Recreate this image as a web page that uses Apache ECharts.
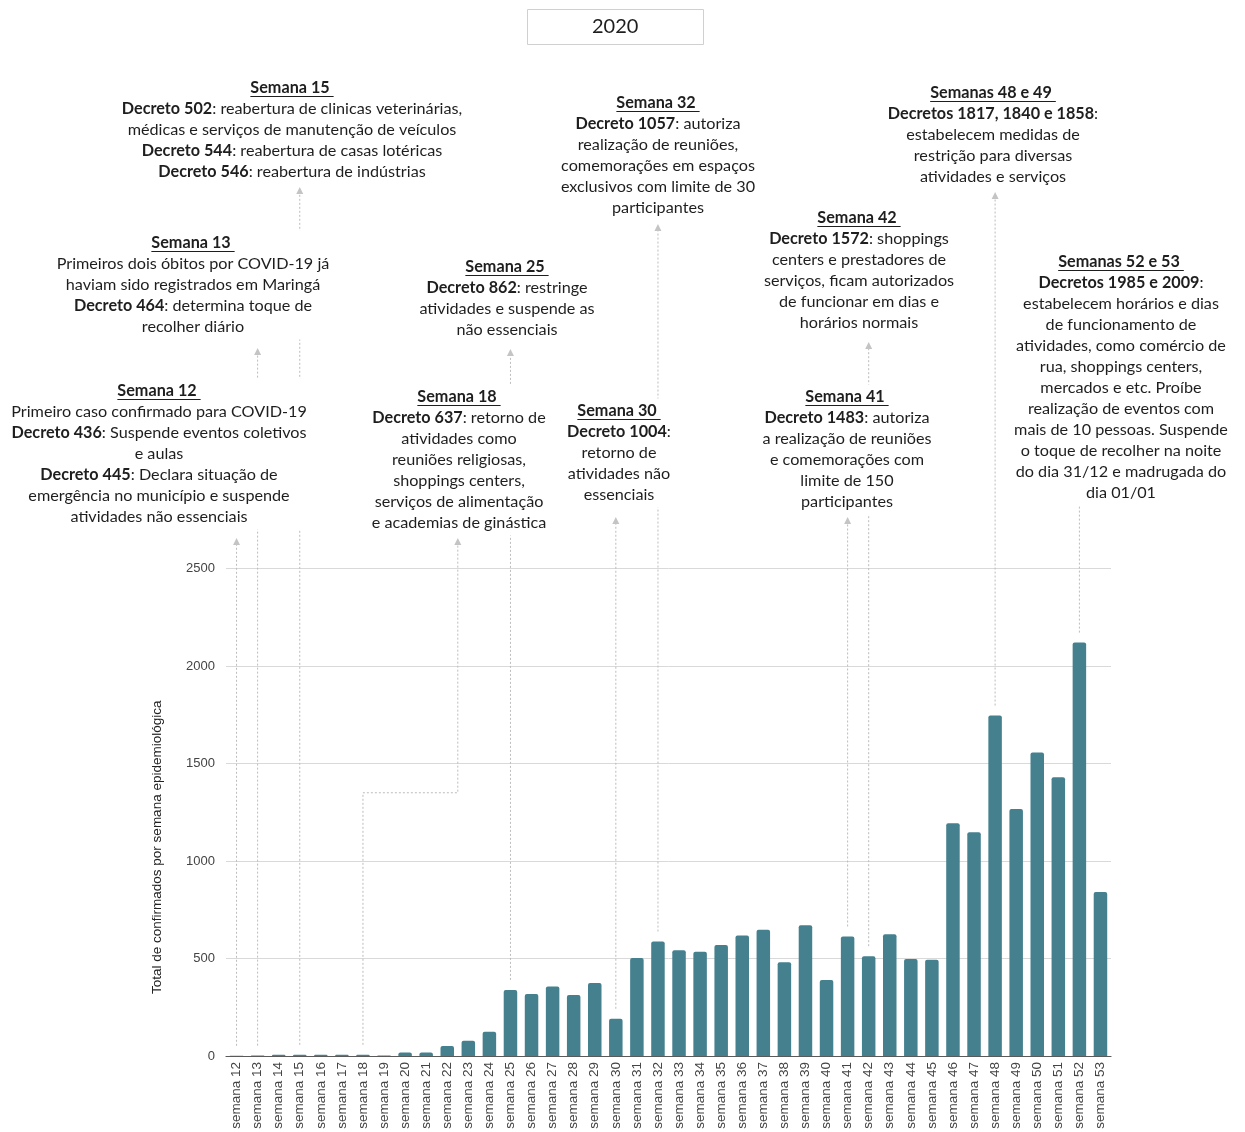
<!DOCTYPE html>
<html><head><meta charset="utf-8">
<script src="https://cdn.jsdelivr.net/npm/echarts@6/dist/echarts.min.js"></script>
<style>html,body{margin:0;padding:0;background:#fff}#c{width:1245px;height:1132px}</style>
</head><body><div id="c"></div>
<script>
// ---- data ----
const categories = ['semana 12','semana 13','semana 14','semana 15','semana 16','semana 17','semana 18','semana 19','semana 20','semana 21','semana 22','semana 23','semana 24','semana 25','semana 26','semana 27','semana 28','semana 29','semana 30','semana 31','semana 32','semana 33','semana 34','semana 35','semana 36','semana 37','semana 38','semana 39','semana 40','semana 41','semana 42','semana 43','semana 44','semana 45','semana 46','semana 47','semana 48','semana 49','semana 50','semana 51','semana 52','semana 53'];
const values = [1,2,6,6,6,6,6,2,18,18,51,78,124,339,318,357,313,375,191,502,587,542,535,569,618,648,481,670,390,613,512,625,497,493,1193,1148,1746,1267,1557,1429,2120,841];
const yTicks = [0,500,1000,1500,2000,2500];
const yearLabel = '2020';
const yAxisName = 'Total de confirmados por semana epidemiológica';

// annotation texts
const noteS12 = ['Primeiro caso confirmado para COVID-19','{b|Decreto 436}: Suspende eventos coletivos','e aulas','{b|Decreto 445}: Declara situação de','emergência no município e suspende','atividades não essenciais'];
const noteS13 = ['Primeiros dois óbitos por COVID-19 já','haviam sido registrados em Maringá','{b|Decreto 464}: determina toque de','recolher diário'];
const noteS15 = ['{b|Decreto 502}: reabertura de clinicas veterinárias,','médicas e serviços de manutenção de veículos','{b|Decreto 544}: reabertura de casas lotéricas','{b|Decreto 546}: reabertura de indústrias'];
const noteS18 = ['{b|Decreto 637}: retorno de','atividades como','reuniões religiosas,','shoppings centers,','serviços de alimentação','e academias de ginástica'];
const noteS25 = ['{b|Decreto 862}: restringe','atividades e suspende as','não essenciais'];
const noteS30 = ['{b|Decreto 1004}:','retorno de','atividades não','essenciais'];
const noteS32 = ['{b|Decreto 1057}: autoriza','realização de reuniões,','comemorações em espaços','exclusivos com limite de 30','participantes'];
const noteS41 = ['{b|Decreto 1483}: autoriza','a realização de reuniões','e comemorações com','limite de 150','participantes'];
const noteS42 = ['{b|Decreto 1572}: shoppings','centers e prestadores de','serviços, ficam autorizados','de funcionar em dias e','horários normais'];
const noteS48 = ['{b|Decretos 1817, 1840 e 1858}:','estabelecem medidas de','restrição para diversas','atividades e serviços'];
const noteS52 = ['{b|Decretos 1985 e 2009}:','estabelecem horários e dias','de funcionamento de','atividades, como comércio de','rua, shoppings centers,','mercados e etc. Proíbe','realização de eventos com','mais de 10 pessoas. Suspende','o toque de recolher na noite','do dia 31/12 e madrugada do','dia 01/01'];

// layout of annotation blocks (pixel layout, not data)
const blocks = [
  {head:'Semana 12', lines:noteS12, cx:159, y0:391, cat:'semana 12', tip:538},
  {head:'Semana 13', lines:noteS13, cx:193, y0:243, cat:'semana 13', tip:348},
  {head:'Semana 15', lines:noteS15, cx:292, y0:88,  cat:'semana 15', tip:187},
  {head:'Semana 18', lines:noteS18, cx:459, y0:397, cat:'semana 18', tip:538, elbowValue:1350, elbowBetween:['semana 22','semana 23']},
  {head:'Semana 25', lines:noteS25, cx:507, y0:267, cat:'semana 25', tip:349},
  {head:'Semana 30', lines:noteS30, cx:619, y0:411, cat:'semana 30', tip:517},
  {head:'Semana 32', lines:noteS32, cx:658, y0:103, cat:'semana 32', tip:224},
  {head:'Semana 41', lines:noteS41, cx:847, y0:397, cat:'semana 41', tip:517},
  {head:'Semana 42', lines:noteS42, cx:859, y0:218, cat:'semana 42', tip:342},
  {head:'Semanas 48 e 49', lines:noteS48, cx:993, y0:93, cat:'semana 48', tip:192},
  {head:'Semanas 52 e 53', lines:noteS52, cx:1121, y0:262, cat:'semana 52', tip:498}
];

const FONT = 'Lato';
const FS = 16.2;
const LH = 21;
const TXT = '#1e1e1e';
const LINEC = '#bcbcbc';

const chart = echarts.init(document.getElementById('c'), null, {renderer:'canvas'});
chart.setOption({
  animation:false,
  backgroundColor:'#fff',
  title:{text:yearLabel, left:527, top:9, padding:[7,65,7,65], borderColor:'#d0d0d0', borderWidth:1,
    textStyle:{fontFamily:FONT, fontSize:20, fontWeight:'normal', color:'#1e1e1e', lineHeight:22}},
  grid:{left:226, right:134, top:568.5, bottom:76, containLabel:false},
  xAxis:{type:'category', data:categories,
    axisTick:{show:false},
    axisLine:{lineStyle:{color:'#5a5a5a', width:1.2}},
    axisLabel:{rotate:90, interval:0, fontSize:13.5, color:'#444', fontFamily:'Liberation Sans', margin:6}},
  yAxis:{type:'value', min:yTicks[0], max:yTicks[yTicks.length-1], interval:yTicks[1]-yTicks[0],
    name:yAxisName, nameLocation:'middle', nameGap:62,
    nameTextStyle:{fontSize:13.5, color:'#222', fontFamily:'Liberation Sans', padding:[0,70,0,0]},
    axisLine:{show:false}, axisTick:{show:false},
    axisLabel:{fontSize:13, color:'#444', fontFamily:'Liberation Sans', margin:11, formatter: v => String(v)},
    splitLine:{lineStyle:{color:'#d9d9d9', width:1}}},
  series:[{type:'bar', data:values, barWidth:13.5,
    itemStyle:{color:'#45808f', borderRadius:[2,2,0,0]}}]
});

// ---- annotations via the chart's own scales ----
const ctx = document.createElement('canvas').getContext('2d');
function textW(s, bold){ ctx.font = (bold?'bold ':'') + FS + 'px ' + FONT; return ctx.measureText(s).width; }
const px = c => chart.convertToPixel({xAxisIndex:0}, categories.indexOf(c));
const py = v => chart.convertToPixel({yAxisIndex:0}, v);
const baseY = py(0);

const g = [];
const PAD = [2,6,2,6];
blocks.forEach(b => {
  const x = px(b.cat);
  const v = values[categories.indexOf(b.cat)];
  const start = Math.min(py(v), baseY) - 10;
  let pts, ax;
  if (b.elbowValue !== undefined) {
    const ex = (px(b.elbowBetween[0]) + px(b.elbowBetween[1])) / 2;
    const ey = py(b.elbowValue);
    pts = [[x, start],[x, ey],[ex, ey],[ex, b.tip + 7]];
    ax = ex;
  } else {
    pts = [[x, start],[x, b.tip + 7]];
    ax = x;
  }
  g.push({type:'polyline', z:1, silent:true, shape:{points:pts},
    style:{stroke:LINEC, lineWidth:1, lineDash:[2,2], fill:null}});
  g.push({type:'polygon', z:1, silent:true, shape:{points:[[ax, b.tip],[ax-3.5, b.tip+7],[ax+3.5, b.tip+7]]},
    style:{fill:'#c4c4c4'}});
  // text block
  const head = b.head + ' ';
  const txt = ['{h|' + head + '}'].concat(b.lines).join('\n');
  const top = b.y0 - LH/2 - PAD[0];
  g.push({type:'text', z:5, silent:true, x:b.cx, y:top,
    style:{text:txt, fontFamily:FONT, fontSize:FS, lineHeight:LH, fill:TXT,
      align:'center', verticalAlign:'top', backgroundColor:'#fff', padding:PAD,
      rich:{
        h:{fontFamily:FONT, fontSize:FS, lineHeight:LH, fontWeight:'bold', fill:TXT},
        b:{fontFamily:FONT, fontSize:FS, lineHeight:LH, fontWeight:'bold', fill:TXT}
      }}});
  const w = textW(head, true);
  const uy = Math.round(b.y0 + 8) + 0.5;
  g.push({type:'line', z:6, silent:true, shape:{x1:b.cx - w/2, y1:uy, x2:b.cx + w/2, y2:uy},
    style:{stroke:TXT, lineWidth:1}});
});
chart.setOption({graphic:g});
</script>
</body></html>
